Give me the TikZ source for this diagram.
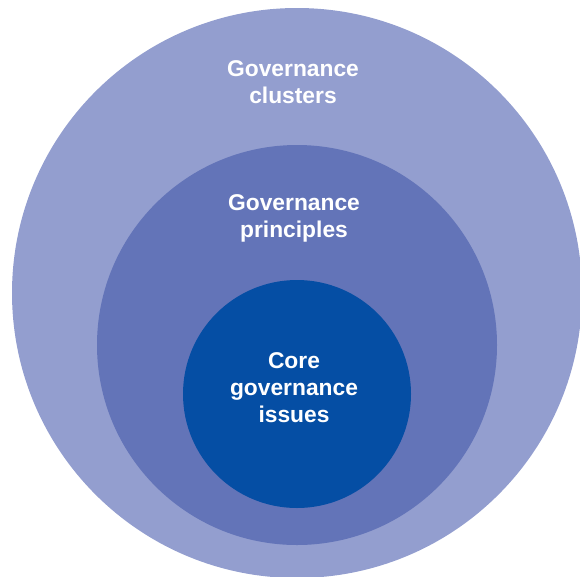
\documentclass[tikz,border=0pt]{standalone}
\usepackage{fontspec}
\setmainfont{Liberation Sans}
\definecolor{outerc}{HTML}{939ECF}
\definecolor{midc}{HTML}{6374B8}
\definecolor{innerc}{HTML}{054EA4}
\begin{document}
\begin{tikzpicture}[x=1pt,y=-1pt,
  ring/.style={circle,inner sep=0pt,outer sep=0pt,draw=none},
  lbl/.style={text=white,font=\fontsize{22.8}{27}\selectfont\bfseries,align=center,inner sep=0pt,anchor=base}]
\useasboundingbox (0,0) rectangle (580,576);
\clip (0,0) rectangle (580,576);
\node[ring,fill=outerc,minimum size=570pt] (outer) at (297,293) {};
\node[ring,fill=midc,minimum size=400pt] (middle) at (297,345) {};
\node[ring,fill=innerc,minimum size=228pt] (inner) at (297,394) {};
\node[lbl] (clusters) at (293,103) {Governance\\clusters};
\node[lbl] (principles) at (294,237) {Governance\\principles};
\node[lbl] (core) at (294,422.5) {Core\\governance\\issues};
\end{tikzpicture}
\end{document}
